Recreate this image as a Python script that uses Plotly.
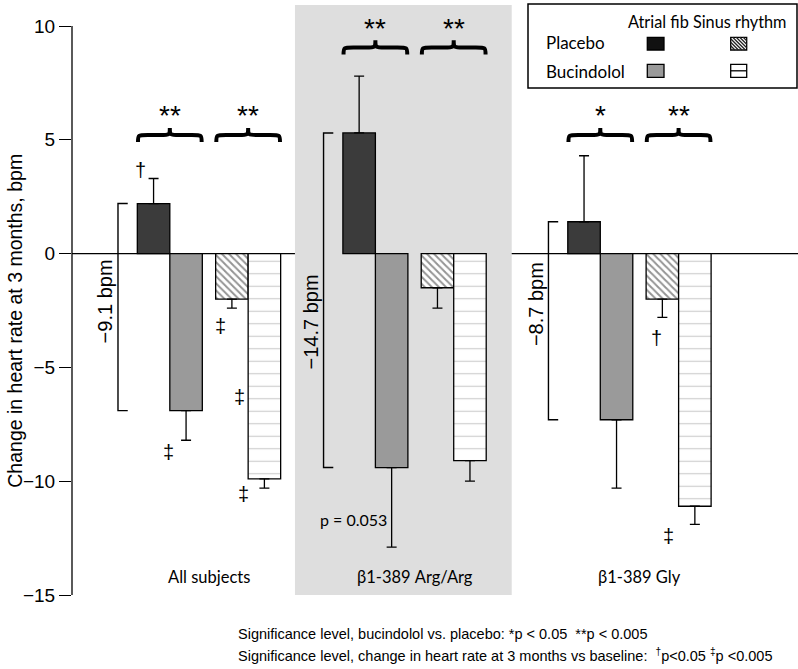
import plotly.graph_objects as go

# ---------------- data ----------------
groups = ["All subjects", "β1-389 Arg/Arg", "β1-389 Gly"]
placebo_af = [2.2, 5.3, 1.4]
placebo_af_err = [1.1, 2.5, 2.9]
bucindolol_af = [-6.9, -9.4, -7.3]
bucindolol_af_err = [1.3, 3.5, 3.0]
placebo_sr = [-2.0, -1.5, -2.0]
placebo_sr_err = [0.4, 0.9, 0.8]
bucindolol_sr = [-9.9, -9.1, -11.1]
bucindolol_sr_err = [0.4, 0.9, 0.8]
sig_af = ["**", "**", "*"]          # bucindolol vs placebo, atrial fib
sig_sr = ["**", "**", "**"]         # bucindolol vs placebo, sinus rhythm
y_ticks = [-15, -10, -5, 0, 5, 10]
y_title = "Change in heart rate at 3 months, bpm"
p_note = "p = 0.053"
foot1 = "Significance level, bucindolol vs. placebo: *p < 0.05  **p < 0.005"
foot2 = ("Significance level, change in heart rate at 3 months vs baseline:  "
         "<sup>†</sup>p<0.05 <sup>‡</sup>p <0.005")
legend_rows = ["Placebo", "Bucindolol"]
legend_head = "Atrial fib Sinus rhythm"

# ---------------- layout constants ----------------
W, H = 798, 669
ML, MR, MT, MB = 72, 0, 5, 74
PW, PH = W - ML - MR, H - MT - MB
BAR_PX = 32.5                      # one x unit = one bar width
X_RANGE = [0, PW / BAR_PX]
Y_RANGE = [-15, 10 + 21 / 22.76]
GROUP_X = [4.215, 10.54, 17.46]
OFFS = [-1.705, -0.705, 0.705, 1.705]
BRACE_BASE = [4.9, 8.75, 4.9]
BRACKET_LABEL_Y = [-2.1, -3.0, -2.2]
# baseline-significance marks: (group, symbol, dx, y)
MARKS = [(0, "†", -2.12, 3.67), (0, "‡", -1.26, -8.7), (0, "‡", 0.34, -3.2),
         (0, "‡", 0.95, -6.3), (0, "‡", 1.05, -10.55),
         (2, "†", 0.53, -3.7), (2, "‡", 0.88, -12.4)]

ARIAL = "Liberation Sans, Arial, sans-serif"
HUMAN = "Lato, Open Sans, sans-serif"


def xp(px):
    return (px - ML) / PW


def yp(py):
    return (H - MB - py) / PH


fig = go.Figure()

series = [
    (placebo_af, placebo_af_err, "#3b3b3b", None),
    (bucindolol_af, bucindolol_af_err, "#9a9a9a", None),
    (placebo_sr, placebo_sr_err, "white",
     dict(shape="\\", size=5, solidity=0.4, fgcolor="#2a2a2a", bgcolor="white")),
    (bucindolol_sr, bucindolol_sr_err, "white",
     dict(shape="-", size=12.5, solidity=0.09, fgcolor="#999999", bgcolor="white")),
]
for (vals, errs, col, pat), off in zip(series, OFFS):
    plus = [e if v > 0 else 0 for v, e in zip(vals, errs)]
    minus = [e if v < 0 else 0 for v, e in zip(vals, errs)]
    marker = dict(color=col, line=dict(color="black", width=1.3))
    if pat:
        marker["pattern"] = pat
    fig.add_trace(go.Bar(
        x=[g + off for g in GROUP_X], y=vals, width=1, marker=marker,
        error_y=dict(type="data", symmetric=False, array=plus, arrayminus=minus,
                     color="black", thickness=1.3, width=5),
        showlegend=False, hoverinfo="skip"))

shapes = []
annotations = []


def ann(**kw):
    kw.setdefault("showarrow", False)
    kw.setdefault("xanchor", "center")
    kw.setdefault("yanchor", "middle")
    annotations.append(kw)


# shaded band around the Arg/Arg group
shapes.append(dict(type="rect", xref="x", yref="y", x0=GROUP_X[1] - 3.68,
                   x1=GROUP_X[1] + 2.99, y0=-15, y1=Y_RANGE[1],
                   fillcolor="#dedede", line=dict(width=0), layer="below"))
# zero line
shapes.append(dict(type="line", xref="paper", yref="y", x0=0, x1=1, y0=0, y1=0,
                   line=dict(color="black", width=1.2), layer="below"))
# y axis line
shapes.append(dict(type="line", xref="paper", yref="y", x0=0, x1=0,
                   y0=y_ticks[0], y1=y_ticks[-1], line=dict(color="black", width=1.3)))


def brace_path(x0, x1, yb, h):
    xm = (x0 + x1) / 2
    ya = yb + h * 0.5
    yt = yb + h
    r = 0.3
    return (f"M{x0},{yb} C{x0},{ya} {x0},{ya} {x0 + r},{ya} L{xm - r},{ya} "
            f"C{xm},{ya} {xm},{ya} {xm},{yt} C{xm},{ya} {xm},{ya} {xm + r},{ya} "
            f"L{x1 - r},{ya} C{x1},{ya} {x1},{ya} {x1},{yb}")


for i, g in enumerate(GROUP_X):
    top, bot = placebo_af[i], bucindolol_af[i]
    bx = g - 2.8
    shapes.append(dict(type="path", xref="x", yref="y",
                       path=f"M{bx + 0.3},{top} L{bx},{top} L{bx},{bot} L{bx + 0.3},{bot}",
                       line=dict(color="black", width=1.4)))
    diff = round(bot - top, 1)
    ann(x=g - 3.2, y=BRACKET_LABEL_Y[i], xref="x", yref="y",
        text=f"−{abs(diff):.1f} bpm", textangle=-90,
        font=dict(family=ARIAL, size=20, color="black"))
    for pc, sig in ((g - 1.205, sig_af[i]), (g + 1.205, sig_sr[i])):
        shapes.append(dict(type="path", xref="x", yref="y",
                           path=brace_path(pc - 0.98, pc + 0.98, BRACE_BASE[i], 0.62),
                           line=dict(color="black", width=4)))
        ann(x=pc, y=BRACE_BASE[i] + 1.15, xref="x", yref="y", text=sig,
            font=dict(family=ARIAL, size=28, color="black"))
    ann(x=g, y=-14.23, xref="x", yref="y", text=groups[i],
        font=dict(family=HUMAN, size=16.5, color="black"))

for gi, sym, dx, yy in MARKS:
    ann(x=GROUP_X[gi] + dx, y=yy, xref="x", yref="y", text=sym,
        font=dict(family=ARIAL, size=20, color="black"))

ann(x=GROUP_X[1] - 1.89, y=-11.7, xref="x", yref="y", text=p_note,
    font=dict(family=HUMAN, size=16, color="black"))

# y-axis title
ann(x=xp(15), y=-2.95, xref="paper", yref="y", text=y_title, textangle=-90,
    font=dict(family=ARIAL, size=19.5, color="black"))

# footnotes
ann(x=xp(236), y=yp(634), xref="paper", yref="paper", text=foot1, xanchor="left",
    font=dict(family=ARIAL, size=14.5, color="black"))
ann(x=xp(236), y=yp(655), xref="paper", yref="paper", text=foot2, xanchor="left",
    font=dict(family=ARIAL, size=14.5, color="black"))

# ---------------- legend (drawn) ----------------
shapes.append(dict(type="rect", xref="paper", yref="paper", x0=xp(528), x1=xp(797),
                   y0=yp(88), y1=yp(4), line=dict(color="black", width=1.5),
                   fillcolor="white"))
ann(x=xp(626), y=yp(21), xref="paper", yref="paper", text=legend_head, xanchor="left",
    font=dict(family=HUMAN, size=16.3, color="black"))
for row, ycen in zip(legend_rows, (42, 71)):
    ann(x=xp(544), y=yp(ycen), xref="paper", yref="paper", text=row, xanchor="left",
        font=dict(family=HUMAN, size=17, color="black"))
# swatches
sw = [(647.3, 664, 37.3, 50, "#111111"), (647.3, 664, 64.3, 77.3, "#9a9a9a")]
for x0, x1, y0, y1, c in sw:
    shapes.append(dict(type="rect", xref="paper", yref="paper", x0=xp(x0), x1=xp(x1),
                       y0=yp(y1), y1=yp(y0), fillcolor=c, line=dict(color="black", width=1.3)))
# hatched swatch
hx0, hx1, hy0, hy1 = 730.7, 746.7, 37.3, 50
shapes.append(dict(type="rect", xref="paper", yref="paper", x0=xp(hx0), x1=xp(hx1),
                   y0=yp(hy1), y1=yp(hy0), fillcolor="white",
                   line=dict(color="black", width=1.3)))
k = -12.0
while k < 16:
    ax, ay = hx0 + k, hy0
    bx_, by_ = ax + (hy1 - hy0), hy1
    if ax < hx0:
        ay = hy0 + (hx0 - ax)
        ax = hx0
    if bx_ > hx1:
        by_ = hy1 - (bx_ - hx1)
        bx_ = hx1
    if ay < by_ and ax < bx_:
        shapes.append(dict(type="line", xref="paper", yref="paper", x0=xp(ax), y0=yp(ay),
                           x1=xp(bx_), y1=yp(by_), line=dict(color="#222", width=1.3)))
    k += 3.5
# horizontal-line swatch
shapes.append(dict(type="rect", xref="paper", yref="paper", x0=xp(730.7), x1=xp(746.7),
                   y0=yp(77.3), y1=yp(64.3), fillcolor="white",
                   line=dict(color="black", width=1.3)))
shapes.append(dict(type="line", xref="paper", yref="paper", x0=xp(730.7), x1=xp(746.7),
                   y0=yp(70.8), y1=yp(70.8), line=dict(color="black", width=1.3)))

fig.update_layout(
    width=W, height=H, margin=dict(l=ML, r=MR, t=MT, b=MB),
    paper_bgcolor="white", plot_bgcolor="white",
    barmode="overlay", showlegend=False,
    xaxis=dict(range=X_RANGE, visible=False, fixedrange=True),
    yaxis=dict(range=Y_RANGE, tickvals=y_ticks, ticks="outside", ticklen=12,
               tickwidth=1.3, tickcolor="black", showgrid=False, zeroline=False,
               showline=False, tickfont=dict(family=ARIAL, size=19, color="black"),
               fixedrange=True),
    shapes=shapes, annotations=annotations,
)

fig.write_html("out.html", config={"displayModeBar": False},
               post_script="document.body.style.margin='0px';")
